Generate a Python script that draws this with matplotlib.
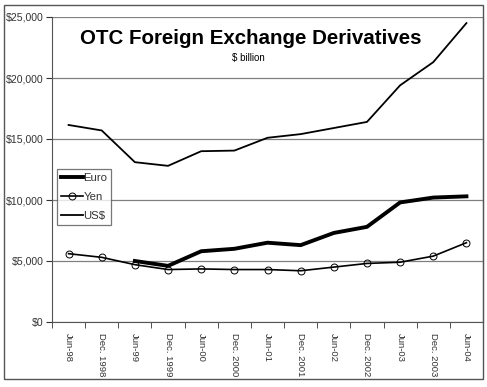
import matplotlib
matplotlib.use('Agg')
import matplotlib.pyplot as plt
from matplotlib.patches import Rectangle
from matplotlib.ticker import FuncFormatter
import numpy as np

periods = ['Jun-98', 'Dec. 1998', 'Jun-99', 'Dec. 1999', 'Jun-00', 'Dec. 2000',
           'Jun-01', 'Dec. 2001', 'Jun-02', 'Dec. 2002', 'Jun-03', 'Dec. 2003', 'Jun-04']
euro = [np.nan, np.nan, 5000, 4600, 5800, 6000, 6500, 6300, 7300, 7800, 9800, 10200, 10300]
yen = [5600, 5300, 4700, 4300, 4350, 4300, 4300, 4200, 4500, 4800, 4900, 5400, 6500]
usd = [16150, 15700, 13100, 12800, 14000, 14050, 15100, 15400, 15900, 16400, 19400, 21300, 24500]

plt.rcParams['font.family'] = ['Liberation Sans', 'DejaVu Sans']

fig = plt.figure(figsize=(4.87, 3.87), dpi=100)
ax = fig.add_axes([52 / 487, 1 - 322 / 387, 431 / 487, 305 / 387])

x = np.arange(len(periods))
ax.plot(x, euro, color='black', lw=2.8, label='Euro')
ax.plot(x, yen, color='black', lw=1.2, marker='o', ms=5, mfc='none', mew=0.7, label='Yen')
ax.plot(x, usd, color='black', lw=1.3, label='US$')

ax.set_xlim(-0.5, len(periods) - 0.5)
ax.set_ylim(0, 25000)
ax.set_yticks(np.arange(0, 25001, 5000))
ax.yaxis.set_major_formatter(FuncFormatter(lambda v, p: '${:,.0f}'.format(v)))
ax.yaxis.grid(True, color='#808080', lw=0.9)
ax.set_axisbelow(True)

ax.set_xticks(x)
ax.set_xticklabels(periods, rotation=270, fontsize=6.8, color='#333333')
ax.set_xticks(np.arange(-0.5, len(periods), 1), minor=True)
ax.tick_params(axis='x', which='major', length=0, pad=8)
ax.tick_params(axis='x', which='minor', length=4, direction='out', color='#333333')
ax.tick_params(axis='y', length=4, direction='out', labelsize=7.6, pad=2,
               color='#333333', labelcolor='#333333')

ax.spines['top'].set_visible(False)
for s in ['right', 'left', 'bottom']:
    ax.spines[s].set_color('#555555')

ax.text(0.46, 0.93, 'OTC Foreign Exchange Derivatives', transform=ax.transAxes,
        ha='center', va='center', fontsize=14.8, fontweight='bold')
ax.text(0.455, 0.865, '$ billion', transform=ax.transAxes,
        ha='center', va='center', fontsize=7)

leg = ax.legend(loc='upper left', bbox_to_anchor=(0.012, 0.5), frameon=True, fancybox=False,
                edgecolor='#555555', fontsize=8.2, handlelength=1.9, handletextpad=0.05,
                borderpad=0.35, labelspacing=0.75, borderaxespad=0)
leg.get_frame().set_linewidth(0.9)
for t in leg.get_texts():
    t.set_color('#333333')

fig.patches.append(Rectangle((4 / 487, 1 - 379 / 387), 479 / 487, 374 / 387,
                             transform=fig.transFigure, fill=False, edgecolor='#555555', lw=1.0))

fig.savefig('out.png', dpi=100)
